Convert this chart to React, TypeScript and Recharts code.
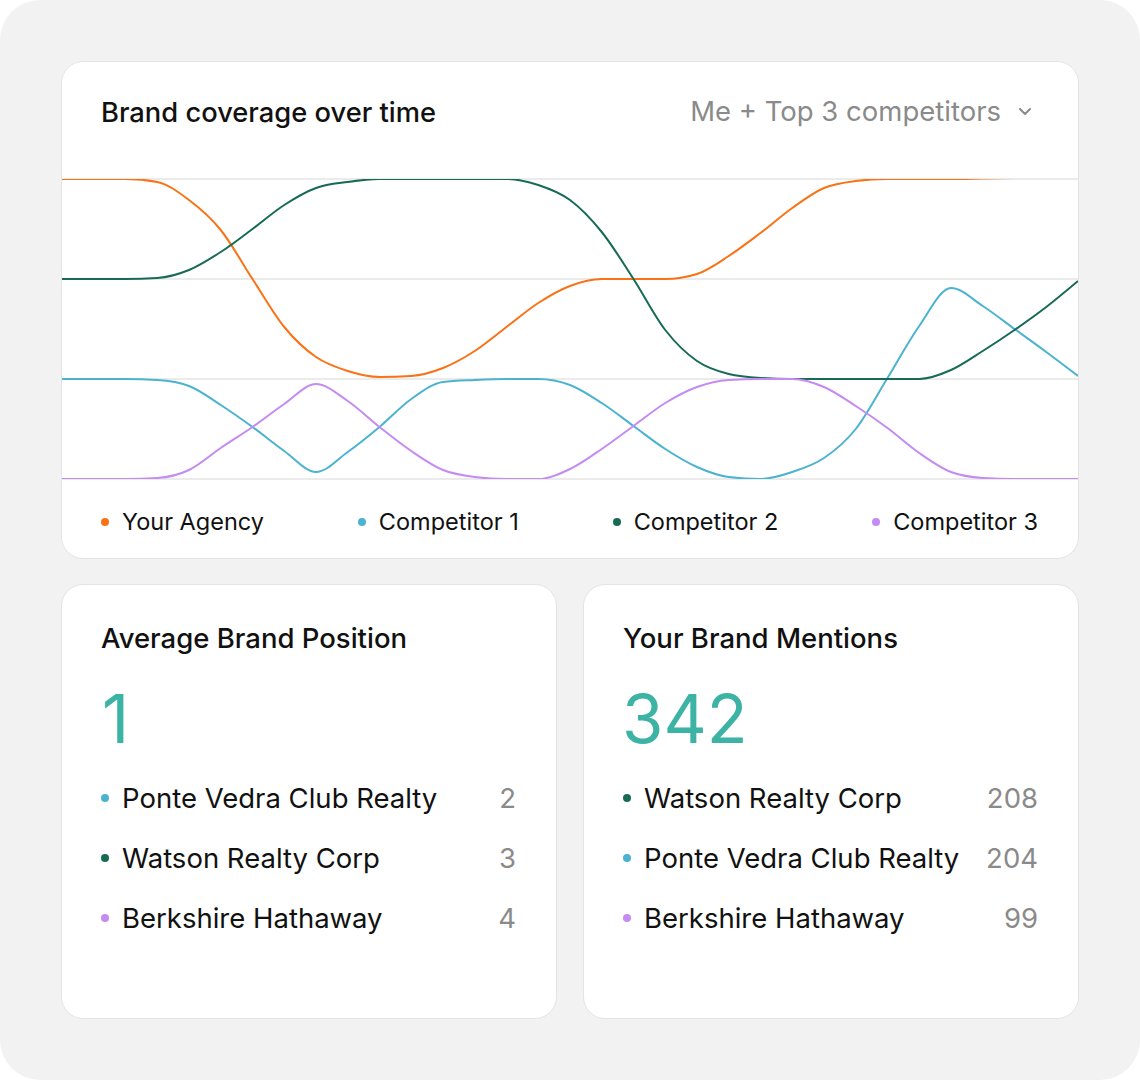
import { CartesianGrid, Line, LineChart, XAxis, YAxis } from "recharts";

const weeks = [
  "W1", "W2", "W3", "W4", "W5", "W6", "W7", "W8", "W9", "W10", "W11",
  "W12", "W13", "W14", "W15", "W16", "W17", "W18", "W19", "W20", "W21", "W22",
  "W23", "W24", "W25", "W26", "W27", "W28", "W29", "W30", "W31", "W32", "W33",
];
// rank per week, 1 = top
const yourAgency = [1, 1, 1, 1.03, 1.21, 1.51, 2.0, 2.48, 2.78, 2.92, 2.98, 2.97, 2.89, 2.72, 2.48, 2.24, 2.07, 2.0, 2.0, 2.0, 1.95, 1.77, 1.54, 1.29, 1.09, 1.02, 1.0, 1.0, 1.0, 0.995, 0.99, 0.985, 0.98];
const competitor1 = [3, 3, 3, 3.01, 3.07, 3.26, 3.48, 3.72, 3.93, 3.73, 3.48, 3.2, 3.03, 3.01, 3.0, 3.0, 3.06, 3.24, 3.47, 3.7, 3.88, 3.98, 4.0, 3.93, 3.79, 3.5, 2.99, 2.47, 2.09, 2.27, 2.5, 2.73, 2.97];
const competitor2 = [2, 2, 2, 1.99, 1.91, 1.73, 1.5, 1.26, 1.09, 1.03, 1.0, 1.0, 1.0, 1.0, 1.0, 1.06, 1.21, 1.53, 2.0, 2.51, 2.82, 2.95, 2.99, 3, 3, 3, 3, 3, 2.91, 2.72, 2.51, 2.28, 2.02];
const competitor3 = [4, 4, 4, 3.99, 3.91, 3.69, 3.48, 3.25, 3.05, 3.22, 3.48, 3.72, 3.91, 3.98, 4.0, 4.0, 3.9, 3.7, 3.47, 3.24, 3.08, 3.01, 3.0, 3.0, 3.08, 3.27, 3.49, 3.74, 3.93, 3.99, 4, 4, 4];
const rankTicks = [1, 2, 3, 4];

const series = [
  { key: "yourAgency", name: "Your Agency", color: "#f97316" },
  { key: "competitor1", name: "Competitor 1", color: "#4bb3d0" },
  { key: "competitor2", name: "Competitor 2", color: "#176b54" },
  { key: "competitor3", name: "Competitor 3", color: "#c48bf2" },
];

const positionNames = ["Ponte Vedra Club Realty", "Watson Realty Corp", "Berkshire Hathaway"];
const positionValues = [2, 3, 4];
const positionColors = ["#4bb3d0", "#176b54", "#c48bf2"];

const mentionNames = ["Watson Realty Corp", "Ponte Vedra Club Realty", "Berkshire Hathaway"];
const mentionValues = [208, 204, 99];
const mentionColors = ["#176b54", "#4bb3d0", "#c48bf2"];

const chartData = weeks.map((week, i) => ({
  week,
  yourAgency: yourAgency[i],
  competitor1: competitor1[i],
  competitor2: competitor2[i],
  competitor3: competitor3[i],
}));

const card: React.CSSProperties = {
  position: "absolute",
  background: "#fff",
  border: "1px solid #e4e4e4",
  borderRadius: 22,
  boxSizing: "border-box",
};

function Dot({ color }: { color: string }) {
  return (
    <span
      style={{ width: 8, height: 8, borderRadius: 4, background: color, display: "inline-block", marginRight: 13, flexShrink: 0 }}
    />
  );
}

function StatList({ names, values, colors }: { names: string[]; values: number[]; colors: string[] }) {
  return (
    <div style={{ position: "absolute", left: 39, right: 40, top: 183 }}>
      {names.map((name, i) => (
        <div key={name} style={{ display: "flex", alignItems: "center", height: 60, fontSize: 27.5, lineHeight: "28px" }}>
          <Dot color={colors[i]} />
          <span style={{ color: "#111", flex: 1 }}>{name}</span>
          <span style={{ color: "#8a8a8a" }}>{values[i]}</span>
        </div>
      ))}
    </div>
  );
}

export default function App() {
  return (
    <div
      style={{
        position: "relative",
        width: 1140,
        height: 1080,
        background: "#f2f2f2",
        borderRadius: 40,
        fontFamily: "Inter, sans-serif",
        overflow: "hidden",
      }}
    >
      <style>{`body { margin: 0; background: #fff; }`}</style>
      <div style={{ ...card, left: 61, top: 61, width: 1018, height: 498 }}>
        <div style={{ position: "absolute", left: 39, top: 37, fontSize: 27.3, lineHeight: "27.5px", fontWeight: 500, color: "#111" }}>
          Brand coverage over time
        </div>
        <div
          style={{
            position: "absolute",
            right: 47,
            top: 36,
            fontSize: 27.5,
            lineHeight: "27.5px",
            color: "#8a8a8a",
            display: "flex",
            alignItems: "center",
          }}
        >
          <span>Me + Top 3 competitors</span>
          <svg width={12} height={8} style={{ marginLeft: 18 }}>
            <polyline points="1,1 6,6 11,1" fill="none" stroke="#8a8a8a" strokeWidth={2} strokeLinecap="round" strokeLinejoin="round" />
          </svg>
        </div>

        <div style={{ position: "absolute", left: 0, top: 107 }}>
          <LineChart width={1016} height={320} data={chartData} margin={{ top: 10, right: 0, bottom: 10, left: 0 }}>
            <CartesianGrid vertical={false} stroke="#ebebeb" strokeWidth={2} />
            <XAxis dataKey="week" hide />
            <YAxis type="number" hide reversed domain={[1, 4]} ticks={rankTicks} allowDataOverflow />
            {series.map((s) => (
              <Line
                key={s.key}
                type="monotone"
                dataKey={s.key}
                name={s.name}
                stroke={s.color}
                strokeWidth={2}
                dot={false}
                activeDot={false}
                isAnimationActive={false}
              />
            ))}
          </LineChart>
        </div>

        <div
          style={{
            position: "absolute",
            left: 39,
            right: 40,
            top: 449,
            display: "flex",
            justifyContent: "space-between",
            fontSize: 23.5,
            lineHeight: "22px",
            color: "#111",
          }}
        >
          {series.map((s) => (
            <div key={s.key} style={{ display: "flex", alignItems: "center" }}>
              <Dot color={s.color} />
              <span>{s.name}</span>
            </div>
          ))}
        </div>
      </div>

      <div style={{ ...card, left: 61, top: 584, width: 496, height: 435 }}>
        <div style={{ position: "absolute", left: 39, top: 40, fontSize: 27.5, lineHeight: "27.5px", fontWeight: 500, color: "#111" }}>
          Average Brand Position
        </div>
        <div style={{ position: "absolute", left: 40, top: 100, fontSize: 67, lineHeight: "67px", color: "#3cb3a4" }}>1</div>
        <StatList names={positionNames} values={positionValues} colors={positionColors} />
      </div>

      <div style={{ ...card, left: 583, top: 584, width: 496, height: 435 }}>
        <div style={{ position: "absolute", left: 39, top: 40, fontSize: 27.5, lineHeight: "27.5px", fontWeight: 500, color: "#111" }}>
          Your Brand Mentions
        </div>
        <div style={{ position: "absolute", left: 38, top: 100, fontSize: 67, lineHeight: "67px", color: "#3cb3a4" }}>342</div>
        <StatList names={mentionNames} values={mentionValues} colors={mentionColors} />
      </div>
    </div>
  );
}
